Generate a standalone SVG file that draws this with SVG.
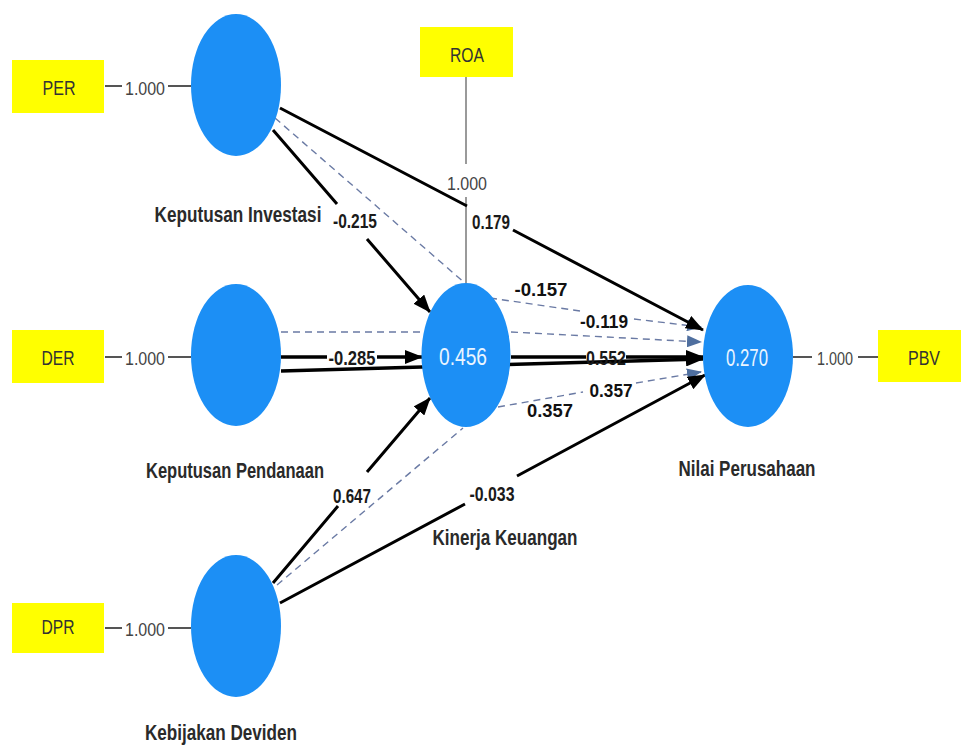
<svg xmlns="http://www.w3.org/2000/svg" width="961" height="746" viewBox="0 0 961 746">
<style>
  text { font-family: "Liberation Sans Narrow", "Liberation Sans", Arial, sans-serif; }
  .ind { fill: #ffff00; }
  .indt { font-size: 20px; fill: #333; text-anchor: middle; }
  .lat { fill: #1c8ff5; }
  .latv { font-size: 24px; fill: #eaf5ff; text-anchor: middle; }
  .name { font-size: 22px; font-weight: bold; fill: #2a2a2a; text-anchor: middle; }
  .load { stroke: #555; stroke-width: 2; fill: none; }
  .loadt { font-size: 18px; fill: #444; text-anchor: middle; }
  .roa { stroke: #9a9a9a; stroke-width: 2; fill: none; }
  .path { stroke: #000; stroke-width: 3; fill: none; marker-end: url(#ah); }
  .dash { stroke: #6a7aa4; stroke-width: 1.4; stroke-dasharray: 7 5; fill: none; }
  .dashe { marker-end: url(#ahb); }
  .coef { font-size: 21px; font-weight: bold; fill: #1a1a1a; text-anchor: middle; }
  .coefb { font-size: 19px; font-weight: bold; fill: #111; text-anchor: middle; }
</style>
<defs>
  <marker id="ah" markerUnits="userSpaceOnUse" viewBox="0 0 18 14" markerWidth="18" markerHeight="14" refX="17" refY="7" orient="auto">
    <path d="M0,0 L18,7 L0,14 z" fill="#000"/>
  </marker>
  <marker id="ahb" markerUnits="userSpaceOnUse" viewBox="0 0 15 12" markerWidth="15" markerHeight="12" refX="14" refY="6" orient="auto">
    <path d="M0,0 L15,6 L0,12 z" fill="#4f6f9f"/>
  </marker>
</defs>
<rect x="0" y="0" width="961" height="746" fill="#ffffff"/>

<g id="connectors">
  <!-- loadings -->
  <path class="load" d="M105,86 L122,86 M168,86 L191,86"/>
  <text class="loadt" x="145" y="95" textLength="40" lengthAdjust="spacingAndGlyphs">1.000</text>
  <path class="load" d="M105,357 L122,357 M168,357 L191,357"/>
  <text class="loadt" x="145" y="365" textLength="40" lengthAdjust="spacingAndGlyphs">1.000</text>
  <path class="load" d="M105,628 L122,628 M168,628 L191,628"/>
  <text class="loadt" x="145" y="636" textLength="40" lengthAdjust="spacingAndGlyphs">1.000</text>
  <path class="load" d="M793,357 L812,357 M858,357 L878,357"/>
  <text class="loadt" x="835" y="365" textLength="36" lengthAdjust="spacingAndGlyphs">1.000</text>
  <path class="roa" d="M466,77 L466,164 M466,197 L466,284"/>
  <text class="loadt" x="467" y="190" textLength="40" lengthAdjust="spacingAndGlyphs">1.000</text>

  <!-- dashed (indirect) -->
  <path class="dash" d="M275,118 L466,284"/>
  <path class="dash" d="M281,332 L423,332"/>
  <path class="dash" d="M277,585 L463,428"/>
  <path class="dash dashe" d="M490,298 L580,311 M634,319 L701,327"/>
  <path class="dash dashe" d="M511,332 L701,342"/>
  <path class="dash dashe" d="M498,407 L583,392 M636,383 L701,372"/>

  <!-- direct paths -->
  <path class="path" d="M273,130 L337,204 M367,239 L430,312"/>
  <path class="path" d="M280,108 L467,206 M513,230 L703,330"/>
  <path class="path" style="stroke-width:3.5" d="M281,357 L327,357 M377,357 L422,357"/>
  <path class="path" style="stroke-width:3.5" d="M281,371 L703,359"/>
  <path class="path" style="stroke-width:3.5" d="M511,357 L586,357 M626,357 L703,357"/>
  <path class="path" d="M273,583 L338,506 M367,472 L430,398"/>
  <path class="path" d="M280,603 L465,504 M517,476 L705,375"/>

  <!-- coefficients -->
  <text class="coef" x="355" y="228" textLength="44" lengthAdjust="spacingAndGlyphs">-0.215</text>
  <text class="coef" x="491" y="229" textLength="38" lengthAdjust="spacingAndGlyphs">0.179</text>
  <text class="coef" x="352" y="365" textLength="47" lengthAdjust="spacingAndGlyphs">-0.285</text>
  <text class="coef" x="606" y="365" textLength="40" lengthAdjust="spacingAndGlyphs">0.552</text>
  <text class="coef" x="352" y="503" textLength="38" lengthAdjust="spacingAndGlyphs">0.647</text>
  <text class="coef" x="492" y="501" textLength="45" lengthAdjust="spacingAndGlyphs">-0.033</text>
  <text class="coefb" x="541" y="296" textLength="53" lengthAdjust="spacingAndGlyphs">-0.157</text>
  <text class="coefb" x="604" y="328" textLength="48" lengthAdjust="spacingAndGlyphs">-0.119</text>
  <text class="coefb" x="611" y="397" textLength="43" lengthAdjust="spacingAndGlyphs">0.357</text>
  <text class="coefb" x="550" y="417" textLength="46" lengthAdjust="spacingAndGlyphs">0.357</text>
</g>

<g id="node-PER">
  <rect class="ind" x="12" y="60" width="92" height="53"/>
  <text class="indt" x="59" y="95" textLength="33" lengthAdjust="spacingAndGlyphs">PER</text>
</g>
<g id="node-DER">
  <rect class="ind" x="12" y="330" width="92" height="53"/>
  <text class="indt" x="58" y="365" textLength="33" lengthAdjust="spacingAndGlyphs">DER</text>
</g>
<g id="node-DPR">
  <rect class="ind" x="12" y="603" width="92" height="50"/>
  <text class="indt" x="58" y="634" textLength="33" lengthAdjust="spacingAndGlyphs">DPR</text>
</g>
<g id="node-ROA">
  <rect class="ind" x="420" y="27" width="93" height="50"/>
  <text class="indt" x="467" y="62" textLength="34" lengthAdjust="spacingAndGlyphs">ROA</text>
</g>
<g id="node-PBV">
  <rect class="ind" x="878" y="330" width="92" height="52"/>
  <text class="indt" x="924" y="365" textLength="32" lengthAdjust="spacingAndGlyphs">PBV</text>
</g>

<g id="node-KeputusanInvestasi">
  <ellipse class="lat" cx="236" cy="85" rx="45" ry="71"/>
  <text class="name" style="font-family:'Liberation Sans', Arial, sans-serif" transform="translate(238,222) scale(0.78,1)" x="0" y="0">Keputusan Investasi</text>
</g>
<g id="node-KeputusanPendanaan">
  <ellipse class="lat" cx="236" cy="355" rx="45" ry="71"/>
  <text class="name" x="235" y="478" textLength="178" lengthAdjust="spacingAndGlyphs">Keputusan Pendanaan</text>
</g>
<g id="node-KebijakanDeviden">
  <ellipse class="lat" cx="236" cy="626" rx="45" ry="71"/>
  <text class="name" x="221" y="740" textLength="152" lengthAdjust="spacingAndGlyphs">Kebijakan Deviden</text>
</g>
<g id="node-KinerjaKeuangan">
  <ellipse class="lat" cx="466" cy="355" rx="44.5" ry="72"/>
  <text class="latv" x="463" y="365" textLength="48" lengthAdjust="spacingAndGlyphs">0.456</text>
  <text class="name" x="505" y="545" textLength="145" lengthAdjust="spacingAndGlyphs">Kinerja Keuangan</text>
</g>
<g id="node-NilaiPerusahaan">
  <ellipse class="lat" cx="748" cy="356" rx="45" ry="71"/>
  <text class="latv" x="747" y="366" textLength="42" lengthAdjust="spacingAndGlyphs">0.270</text>
  <text class="name" x="747" y="476" textLength="137" lengthAdjust="spacingAndGlyphs">Nilai Perusahaan</text>
</g>
</svg>
